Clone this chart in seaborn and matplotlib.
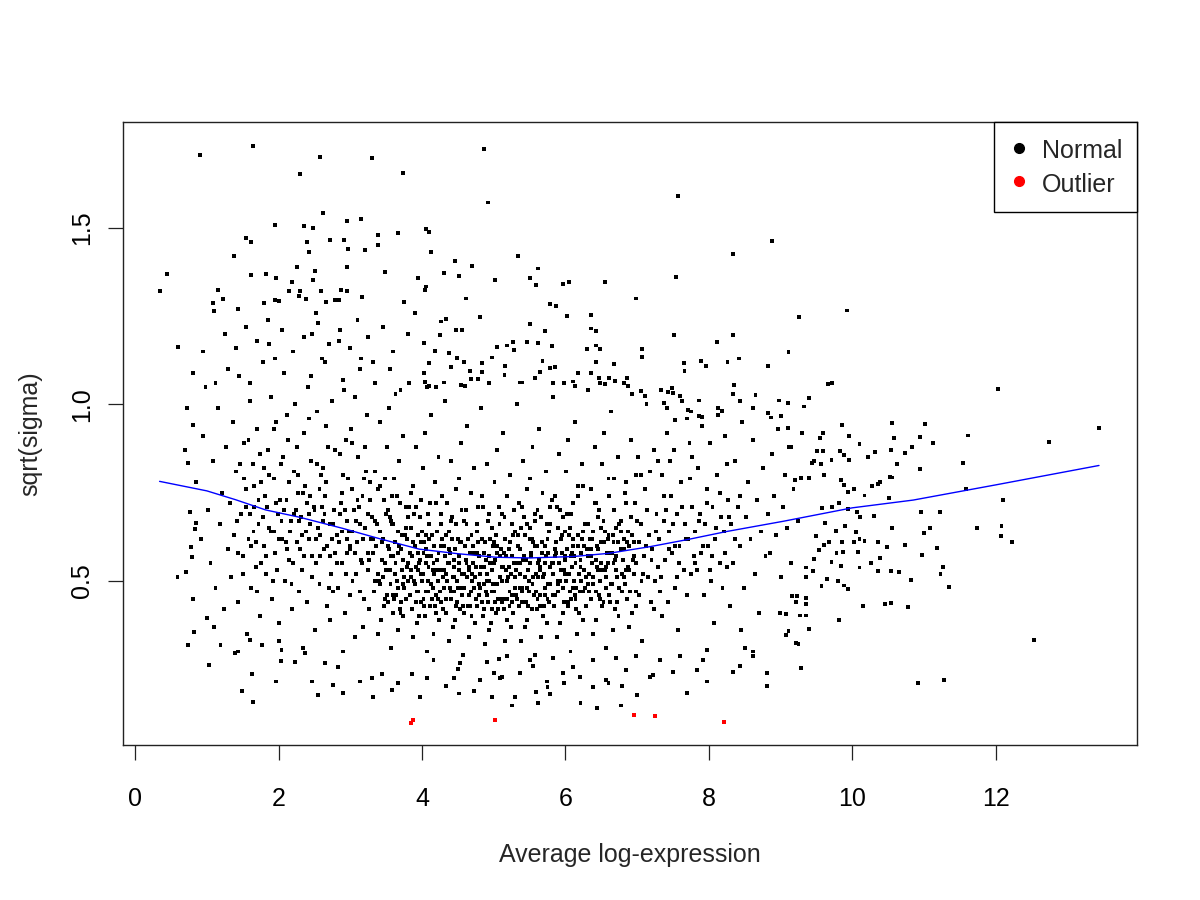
import numpy as np
import pandas as pd
import matplotlib
matplotlib.use("Agg")
import matplotlib.pyplot as plt
from matplotlib.lines import Line2D
import seaborn as sns

# points (x = average log-expression, y = sqrt(sigma))
top_tail = [
    (0.91, 1.707), (1.64, 1.733), (2.58, 1.700), (3.30, 1.698), (2.30, 1.653), (3.74, 1.656), (4.87, 1.723),
    (4.92, 1.572), (7.57, 1.591), (2.62, 1.543), (1.95, 1.508), (2.36, 1.506), (2.48, 1.501), (2.96, 1.520),
    (3.15, 1.525), (1.54, 1.472), (1.62, 1.460), (2.40, 1.461), (2.42, 1.433), (2.72, 1.465), (2.91, 1.465),
    (2.97, 1.441), (3.20, 1.438), (3.38, 1.452), (3.39, 1.479), (3.67, 1.486), (4.05, 1.496), (4.10, 1.488),
    (4.13, 1.431), (5.34, 1.420), (8.88, 1.464), (8.34, 1.425), (5.62, 1.385), (5.50, 1.359), (5.59, 1.339),
    (5.97, 1.340), (6.05, 1.348), (6.55, 1.348), (5.02, 1.353), (4.70, 1.392), (4.46, 1.405), (4.51, 1.363),
    (4.31, 1.372), (3.95, 1.358), (4.06, 1.334), (3.49, 1.374), (2.96, 1.389), (2.25, 1.390), (2.50, 1.378),
    (1.82, 1.370), (1.97, 1.359), (1.62, 1.367), (1.38, 1.420), (0.45, 1.369), (0.35, 1.321), (7.54, 1.360),
    (6.99, 1.300), (9.92, 1.266), (9.26, 1.247), (1.16, 1.324), (1.22, 1.298), (1.08, 1.287), (1.10, 1.264),
    (1.44, 1.271), (1.80, 1.288), (1.95, 1.295), (2.01, 1.292), (2.19, 1.346), (2.14, 1.321), (2.30, 1.322),
    (2.29, 1.307), (2.38, 1.299), (2.59, 1.321), (2.48, 1.353), (2.51, 1.377), (2.87, 1.325), (2.95, 1.322),
    (2.84, 1.295), (2.78, 1.295), (3.16, 1.305), (3.75, 1.291), (2.66, 1.289), (2.52, 1.260), (4.61, 1.300),
    (4.04, 1.324), (5.78, 1.285), (5.87, 1.278), (6.02, 1.251), (6.35, 1.253), (0.60, 1.162),
]

upper_mid = [
    (7.51, 1.196), (8.33, 1.196), (8.11, 1.177), (7.07, 1.156), (7.07, 1.135), (6.30, 1.156), (9.11, 1.148),
    (6.68, 1.116), (7.65, 1.117), (7.89, 1.122), (7.96, 1.108), (8.26, 1.121), (8.42, 1.130), (8.83, 1.108),
    (4.26, 1.235), (4.33, 1.241), (4.81, 1.247), (5.50, 1.227), (4.48, 1.210), (4.56, 1.211), (6.35, 1.215),
    (6.42, 1.209), (5.72, 1.207), (4.25, 1.196), (4.03, 1.173), (5.05, 1.162), (5.18, 1.167), (5.27, 1.177),
    (5.28, 1.154), (5.47, 1.176), (5.62, 1.175), (5.81, 1.165), (6.42, 1.167), (6.48, 1.156), (4.18, 1.151),
    (4.38, 1.145), (4.49, 1.131), (4.58, 1.119), (4.10, 1.118), (4.03, 1.090), (4.41, 1.105), (4.98, 1.133),
    (4.84, 1.117), (4.67, 1.094), (4.84, 1.092), (5.16, 1.109), (5.15, 1.083), (5.68, 1.122), (5.65, 1.091),
    (5.58, 1.076), (5.79, 1.103), (5.85, 1.107), (6.42, 1.121), (6.36, 1.088), (6.47, 1.076), (6.61, 1.076),
    (6.69, 1.066), (6.68, 1.114), (6.86, 1.075), (7.66, 1.094), (5.83, 1.060), (5.98, 1.060), (6.10, 1.065),
    (6.13, 1.052), (6.18, 1.090), (6.48, 1.060), (6.55, 1.058), (6.87, 1.051), (5.37, 1.062), (5.39, 1.062),
    (4.02, 1.088), (4.04, 1.064), (4.07, 1.050), (4.10, 1.053), (4.19, 1.049), (4.31, 1.062), (4.54, 1.056),
    (4.60, 1.053), (4.68, 1.071), (4.78, 1.071), (4.94, 1.060), (6.93, 1.030), (7.05, 1.039), (7.11, 1.025),
    (7.33, 1.041), (7.43, 1.034), (7.49, 1.046), (7.50, 1.032), (7.60, 1.024), (7.86, 1.011), (8.35, 1.054),
    (8.33, 1.030), (8.43, 1.009), (8.65, 1.026), (8.98, 1.011), (9.10, 1.004), (8.83, 0.975), (8.87, 0.963),
    (9.00, 0.966), (9.10, 0.933), (8.13, 0.970), (8.18, 0.982), (7.86, 0.966), (7.91, 0.964), (7.71, 0.984),
    (7.75, 0.980), (7.38, 1.003), (7.41, 0.990), (7.53, 0.956),
    (1.25, 1.20), (1.40, 1.16), (1.55, 1.22), (1.70, 1.18), (1.85, 1.24), (2.05, 1.21), (2.20, 1.15),
    (2.35, 1.19), (2.55, 1.23), (2.70, 1.17), (2.85, 1.21), (3.00, 1.16), (3.10, 1.24), (3.25, 1.19),
    (3.45, 1.22), (3.60, 1.15), (3.80, 1.20), (3.90, 1.26), (1.30, 1.10), (1.60, 1.06), (1.95, 1.13),
    (2.45, 1.08), (2.65, 1.12), (2.90, 1.07), (3.15, 1.13), (3.35, 1.06), (3.55, 1.10), (3.70, 1.04),
    (0.95, 1.15), (1.12, 1.06), (0.80, 1.09), (0.72, 0.99),
]

right_side = [
    (9.66, 1.057), (9.72, 1.060), (12.03, 1.043), (13.44, 0.933), (12.74, 0.893), (11.61, 0.912),
    (11.55, 0.834), (11.58, 0.760), (12.10, 0.730), (12.08, 0.655), (12.07, 0.627), (12.23, 0.609),
    (11.74, 0.651), (12.53, 0.333), (11.28, 0.220), (10.92, 0.210), (11.02, 0.945), (10.95, 0.908),
    (11.13, 0.890), (10.95, 0.818), (10.83, 0.880), (10.73, 0.862), (10.55, 0.947), (10.58, 0.906),
    (10.54, 0.870), (10.62, 0.832), (10.32, 0.864), (10.22, 0.850), (10.10, 0.888), (9.86, 0.941),
    (9.95, 0.910), (9.83, 0.868), (9.89, 0.856), (9.95, 0.842), (9.71, 0.843), (9.59, 0.869),
    (9.55, 0.905), (9.59, 0.920), (9.40, 1.017), (9.33, 0.994), (9.10, 1.004), (10.52, 0.794),
    (10.56, 0.793), (10.51, 0.734), (10.96, 0.695), (11.22, 0.695), (10.55, 0.650), (11.08, 0.649),
    (11.00, 0.635), (10.74, 0.601), (10.49, 0.595), (10.36, 0.611), (10.39, 0.566), (11.18, 0.592),
    (10.97, 0.573), (11.27, 0.540), (11.23, 0.520), (11.35, 0.483), (10.82, 0.503), (10.65, 0.525),
    (10.54, 0.528), (10.36, 0.528), (10.78, 0.425), (10.54, 0.437), (10.46, 0.435), (10.15, 0.430),
    (9.81, 0.388), (9.40, 0.363), (9.25, 0.322), (9.29, 0.253), (10.36, 0.775), (10.38, 0.779),
    (10.27, 0.770), (10.17, 0.742), (10.02, 0.761), (9.94, 0.751), (9.84, 0.786), (9.89, 0.772),
    (9.82, 0.720), (9.72, 0.710), (9.94, 0.704), (10.06, 0.695), (10.11, 0.681), (10.30, 0.684),
    (9.90, 0.656), (9.77, 0.642), (10.05, 0.638), (10.10, 0.620), (10.17, 0.614), (10.02, 0.610),
    (9.85, 0.609), (9.68, 0.609), (9.87, 0.581), (9.78, 0.578), (10.08, 0.581), (10.26, 0.550),
    (10.10, 0.538), (9.84, 0.541), (9.71, 0.553), (9.65, 0.506), (9.80, 0.501), (9.89, 0.487),
    (9.94, 0.478), (9.57, 0.485), (9.45, 0.529), (9.35, 0.538), (9.35, 0.512), (9.35, 0.451),
    (9.36, 0.435), (9.27, 0.402), (9.35, 0.402), (9.08, 0.406), (9.11, 0.358), (9.23, 0.458),
    (9.16, 0.456), (9.29, 0.791), (9.20, 0.785), (9.39, 0.791), (9.58, 0.707), (9.62, 0.663),
    (9.50, 0.628), (9.60, 0.602), (9.53, 0.587), (9.47, 0.562), (9.47, 0.839), (9.44, 0.833),
    (9.56, 0.830), (9.60, 0.800), (9.51, 0.868), (9.30, 0.919), (9.15, 0.880),
]

bottom_edge = [
    (0.59, 0.512), (0.71, 0.526), (0.79, 0.569), (0.78, 0.597), (0.85, 0.663), (0.84, 0.647), (0.76, 0.694),
    (0.73, 0.833), (0.69, 0.871), (0.80, 0.942), (0.73, 0.319), (0.82, 0.355), (1.03, 0.262), (1.00, 0.394),
    (0.80, 0.449), (1.49, 0.188), (1.64, 0.158), (2.03, 0.274), (1.63, 0.235), (2.55, 0.177), (2.90, 0.182),
    (3.31, 0.172), (3.58, 0.191), (3.97, 0.172), (1.97, 0.215), (2.46, 0.215), (2.76, 0.205), (3.14, 0.215),
    (3.30, 0.226), (3.44, 0.237), (3.66, 0.212), (3.86, 0.237), (1.19, 0.319), (1.39, 0.295), (1.60, 0.333),
    (1.77, 0.319), (2.04, 0.305), (2.23, 0.271), (2.37, 0.295), (2.65, 0.267), (2.83, 0.257),
    (4.33, 0.203), (4.52, 0.181), (4.72, 0.187), (4.97, 0.170), (5.11, 0.227), (5.29, 0.170), (5.26, 0.147),
    (5.62, 0.154), (5.79, 0.180), (5.59, 0.185), (5.75, 0.199), (5.98, 0.210), (6.21, 0.154), (6.39, 0.199),
    (6.44, 0.141), (6.60, 0.210), (6.78, 0.147), (6.79, 0.203), (7.00, 0.177), (7.18, 0.229), (7.69, 0.182),
    (7.97, 0.215), (8.43, 0.259), (8.81, 0.238), (8.81, 0.201), (8.62, 0.286), (9.22, 0.324), (4.07, 0.224),
    (4.44, 0.224), (4.81, 0.219), (5.09, 0.224), (5.37, 0.238), (5.74, 0.215), (5.97, 0.238), (6.20, 0.229),
    (6.57, 0.219), (6.85, 0.248), (7.22, 0.234), (7.50, 0.243), (7.83, 0.248), (7.97, 0.305), (8.34, 0.243),
    (8.62, 0.300), (9.08, 0.347), (8.99, 0.408), (4.16, 0.276), (4.53, 0.267), (4.90, 0.271), (5.18, 0.286),
    (5.51, 0.276), (5.83, 0.281), (6.11, 0.257), (6.39, 0.276), (6.71, 0.281), (6.99, 0.286), (7.32, 0.276),
    (7.60, 0.286), (7.92, 0.276),
]

core_left = [
    (0.85, 0.78), (0.92, 0.62), (0.95, 0.91), (1.02, 0.70), (1.05, 0.55), (1.08, 0.84), (1.12, 0.48),
    (1.15, 0.99), (1.18, 0.66), (1.21, 0.75), (1.24, 0.42), (1.27, 0.88), (1.29, 0.59), (0.98, 1.05),
    (1.10, 0.37), (1.32, 0.72), (1.34, 0.51), (1.36, 0.95), (1.38, 0.63), (1.41, 0.81), (1.43, 0.44),
    (1.45, 1.08), (1.47, 0.69), (1.50, 0.57), (1.52, 0.89), (1.54, 0.76), (1.56, 0.35), (1.58, 0.62),
    (1.60, 1.01), (1.62, 0.48), (1.64, 0.83), (1.66, 0.71), (1.68, 0.54), (1.70, 0.93), (1.72, 0.66),
    (1.74, 0.40), (1.76, 0.78), (1.78, 1.12), (1.79, 0.60), (1.44, 0.30), (1.81, 0.74), (1.83, 0.52),
    (1.85, 0.87), (1.87, 0.65), (1.89, 1.02), (1.91, 0.45), (1.93, 0.79), (1.95, 0.58), (1.97, 0.95),
    (1.99, 0.69), (2.01, 0.38), (2.03, 0.83), (2.05, 0.62), (2.07, 1.09), (2.09, 0.50), (2.11, 0.73),
    (2.13, 0.90), (2.15, 0.56), (2.17, 0.67), (2.19, 0.42), (2.21, 0.81), (2.23, 1.00), (2.25, 0.61),
    (2.27, 0.75), (2.29, 0.47), (1.86, 1.17), (2.00, 0.33), (2.12, 0.97), (2.24, 0.70), (1.94, 0.64),
    (2.31, 0.68), (2.33, 0.53), (2.35, 0.92), (2.37, 0.77), (2.39, 0.44), (2.41, 1.05), (2.43, 0.62),
    (2.45, 0.84), (2.47, 0.57), (2.49, 0.71), (2.51, 0.36), (2.53, 0.98), (2.55, 0.65), (2.57, 0.49),
    (2.59, 0.80), (2.61, 1.13), (2.63, 0.59), (2.65, 0.74), (2.67, 0.43), (2.69, 0.88), (2.71, 0.66),
    (2.73, 0.52), (2.75, 1.01), (2.77, 0.70), (2.79, 0.58), (2.34, 0.31), (2.46, 1.20), (2.58, 0.63),
    (2.66, 0.94), (2.72, 0.39), (2.40, 0.72), (2.52, 0.55), (2.62, 0.82), (2.76, 0.47), (2.44, 0.66),
    (2.81, 0.63), (2.83, 0.48), (2.85, 0.86), (2.87, 0.72), (2.89, 0.55), (2.91, 1.04), (2.93, 0.41),
    (2.95, 0.67), (2.97, 0.79), (2.99, 0.59), (3.01, 0.93), (3.03, 0.50), (3.05, 0.70), (3.07, 0.34),
    (3.09, 0.61), (3.11, 0.85), (3.13, 1.10), (3.15, 0.56), (3.17, 0.74), (3.19, 0.45), (3.21, 0.65),
    (3.23, 0.97), (3.25, 0.53), (3.27, 0.78), (3.29, 0.62), (2.84, 1.18), (2.90, 0.30), (2.96, 0.58),
    (3.02, 0.76), (3.08, 0.52), (3.14, 0.66), (3.20, 0.88), (3.26, 0.42), (2.88, 0.64), (3.00, 0.46),
    (3.12, 0.71), (3.24, 0.58), (2.94, 0.90), (3.06, 1.02), (3.18, 0.37),
    (1.42, 0.67), (1.46, 0.83), (1.50, 0.52), (1.54, 0.71), (1.58, 0.90), (1.62, 0.60), (1.66, 0.77),
    (1.70, 0.47), (1.74, 0.86), (1.78, 0.68), (1.82, 0.57), (1.86, 0.80), (1.90, 0.64), (1.94, 0.93),
    (1.98, 0.53), (2.02, 0.73), (2.06, 0.85), (2.10, 0.61), (2.14, 0.78), (2.18, 0.49), (2.22, 0.69),
    (2.26, 0.88), (2.30, 0.59), (2.34, 0.75), (2.38, 0.64), (2.42, 0.96), (2.46, 0.51), (2.50, 0.70),
    (2.54, 0.83), (2.58, 0.57), (2.62, 0.67), (2.66, 0.78), (2.70, 0.48), (2.74, 0.62), (2.78, 0.87),
    (2.82, 0.55), (2.86, 0.69), (2.90, 0.80), (2.94, 0.52), (2.98, 0.64), (3.02, 0.89), (3.06, 0.58),
    (3.10, 0.73), (3.14, 0.47), (3.18, 0.62), (3.22, 0.81), (3.26, 0.56), (3.30, 0.68), (3.34, 0.50),
    (3.38, 0.76), (1.44, 0.58), (1.52, 0.79), (1.60, 0.69), (1.68, 0.61), (1.76, 0.55), (1.84, 0.71),
    (1.92, 0.50), (2.00, 0.62), (2.08, 0.70), (2.16, 0.64), (2.20, 0.55), (2.28, 0.67), (2.36, 0.57),
    (2.44, 0.74), (2.52, 0.62), (2.60, 0.71), (2.68, 0.60), (2.76, 0.66), (2.84, 0.61), (2.92, 0.70),
    (3.00, 0.60), (3.08, 0.67), (3.16, 0.55), (3.24, 0.69), (3.32, 0.62),
    (1.65, 0.64), (1.80, 0.82), (1.96, 0.72), (2.12, 0.59), (2.27, 0.80), (2.42, 0.69), (2.57, 0.76),
    (2.72, 0.57), (2.88, 0.75), (3.03, 0.64), (3.19, 0.79), (3.35, 0.67), (1.72, 0.73), (2.04, 0.67),
    (2.32, 0.63), (2.64, 0.69), (2.96, 0.62), (3.28, 0.73),
]

core_mid = [
    (3.31, 0.58), (3.33, 0.47), (3.35, 0.81), (3.37, 0.66), (3.39, 0.52), (3.41, 0.95), (3.43, 0.39),
    (3.45, 0.62), (3.47, 0.73), (3.49, 0.55), (3.51, 0.88), (3.53, 0.44), (3.55, 0.68), (3.57, 0.31),
    (3.59, 0.57), (3.61, 0.79), (3.63, 1.03), (3.65, 0.50), (3.67, 0.64), (3.69, 0.42), (3.71, 0.59),
    (3.73, 0.91), (3.75, 0.48), (3.77, 0.71), (3.79, 0.54), (3.32, 1.12), (3.38, 0.35), (3.44, 0.56),
    (3.50, 0.69), (3.56, 0.49), (3.62, 0.61), (3.68, 0.84), (3.74, 0.40), (3.36, 0.60), (3.48, 0.45),
    (3.60, 0.66), (3.72, 0.53), (3.42, 0.77), (3.54, 0.99), (3.66, 0.36), (3.40, 0.50), (3.52, 0.60),
    (3.64, 0.46), (3.76, 0.63), (3.58, 0.74), (3.81, 0.55), (3.83, 0.46), (3.85, 0.75), (3.87, 0.61),
    (3.89, 0.50), (3.91, 0.88), (3.93, 0.38), (3.95, 0.58), (3.97, 0.68), (3.99, 0.52), (4.01, 0.82),
    (4.03, 0.43), (4.05, 0.63), (4.07, 0.30), (4.09, 0.54), (4.11, 0.72), (4.13, 0.97), (4.15, 0.48),
    (4.17, 0.60), (4.19, 0.41), (4.21, 0.56), (4.23, 0.85), (4.25, 0.47), (4.27, 0.66), (4.29, 0.51),
    (3.82, 1.06), (3.88, 0.34), (3.94, 0.53), (4.00, 0.64), (4.06, 0.47), (4.12, 0.57), (4.18, 0.78),
    (4.24, 0.39), (3.86, 0.57), (3.98, 0.44), (4.10, 0.62), (4.22, 0.50), (3.92, 0.71), (4.04, 0.92),
    (4.16, 0.35), (3.90, 0.49), (4.02, 0.58), (4.14, 0.45), (4.26, 0.60), (4.08, 0.69), (3.84, 0.65),
    (3.96, 0.40), (4.20, 0.53), (4.28, 0.74), (4.00, 0.50), (4.31, 0.53), (4.33, 0.45), (4.35, 0.72),
    (4.37, 0.59), (4.39, 0.48), (4.41, 0.84), (4.43, 0.37), (4.45, 0.56), (4.47, 0.66), (4.49, 0.50),
    (4.51, 0.79), (4.53, 0.42), (4.55, 0.61), (4.57, 0.29), (4.59, 0.52), (4.61, 0.70), (4.63, 0.94),
    (4.65, 0.46), (4.67, 0.58), (4.69, 0.40), (4.71, 0.55), (4.73, 0.82), (4.75, 0.45), (4.77, 0.64),
    (4.79, 0.49), (4.32, 1.01), (4.38, 0.33), (4.44, 0.51), (4.50, 0.62), (4.56, 0.46), (4.62, 0.55),
    (4.68, 0.75), (4.74, 0.38), (4.36, 0.55), (4.48, 0.43), (4.60, 0.60), (4.72, 0.48), (4.42, 0.68),
    (4.54, 0.89), (4.66, 0.34), (4.40, 0.47), (4.52, 0.57), (4.64, 0.43), (4.76, 0.58), (4.58, 0.67),
    (4.34, 0.63), (4.46, 0.39), (4.70, 0.52), (4.78, 0.71), (4.50, 0.25), (4.81, 0.52), (4.83, 0.44),
    (4.85, 0.71), (4.87, 0.58), (4.89, 0.47), (4.91, 0.83), (4.93, 0.36), (4.95, 0.55), (4.97, 0.65),
    (4.99, 0.49), (5.01, 0.78), (5.03, 0.41), (5.05, 0.60), (5.07, 0.28), (5.09, 0.51), (5.11, 0.69),
    (5.13, 0.92), (5.15, 0.45), (5.17, 0.57), (5.19, 0.39), (5.21, 0.54), (5.23, 0.80), (5.25, 0.44),
    (5.27, 0.63), (5.29, 0.48), (4.82, 0.99), (4.88, 0.32), (4.94, 0.50), (5.00, 0.61), (5.06, 0.45),
    (5.12, 0.54), (5.18, 0.74), (5.24, 0.37), (4.86, 0.54), (4.98, 0.42), (5.10, 0.59), (5.22, 0.47),
    (4.92, 0.67), (5.04, 0.87), (5.16, 0.33), (4.90, 0.46), (5.02, 0.56), (5.14, 0.42), (5.26, 0.57),
    (5.08, 0.66), (4.84, 0.62), (4.96, 0.38), (5.20, 0.51), (5.28, 0.70), (5.00, 0.24),
]

core_dense = [
    (3.41, 0.49), (3.44, 0.61), (3.47, 0.43), (3.50, 0.53), (3.53, 0.70), (3.56, 0.57), (3.59, 0.46),
    (3.62, 0.52), (3.65, 0.74), (3.68, 0.60), (3.71, 0.44), (3.74, 0.56), (3.77, 0.65), (3.80, 0.50),
    (3.83, 0.58), (3.86, 0.42), (3.89, 0.69), (3.92, 0.54), (3.95, 0.47), (3.98, 0.61), (4.01, 0.52),
    (4.04, 0.40), (4.07, 0.57), (4.10, 0.66), (4.13, 0.49), (4.16, 0.55), (4.19, 0.72), (4.22, 0.45),
    (4.25, 0.53), (4.28, 0.62), (4.31, 0.48), (4.34, 0.41), (4.37, 0.55), (4.40, 0.67), (4.43, 0.51),
    (4.46, 0.59), (4.49, 0.44), (4.52, 0.53), (4.55, 0.70), (4.58, 0.48), (4.61, 0.56), (4.64, 0.62),
    (4.67, 0.43), (4.70, 0.50), (4.73, 0.58), (4.76, 0.66), (4.79, 0.46), (4.82, 0.54), (4.85, 0.40),
    (4.88, 0.61), (4.91, 0.52), (4.94, 0.69), (4.97, 0.47), (5.00, 0.55), (5.03, 0.63), (5.06, 0.42),
    (5.09, 0.57), (5.12, 0.50), (5.15, 0.68), (5.18, 0.45), (5.21, 0.59), (5.24, 0.52), (5.27, 0.41),
    (5.30, 0.64), (5.33, 0.55), (5.36, 0.48), (5.39, 0.71), (5.42, 0.57), (5.45, 0.44), (5.48, 0.53),
    (5.51, 0.65), (5.54, 0.49), (5.57, 0.60), (5.60, 0.42), (5.63, 0.56), (5.66, 0.68), (5.69, 0.51),
    (5.72, 0.46), (5.75, 0.62), (5.78, 0.54), (5.81, 0.73), (5.84, 0.43), (5.87, 0.58), (5.90, 0.65),
    (5.93, 0.50), (5.96, 0.41), (5.99, 0.56), (6.02, 0.69), (6.05, 0.52), (6.08, 0.45), (6.11, 0.60),
    (6.14, 0.55), (6.17, 0.74), (6.20, 0.47), (6.23, 0.62), (6.26, 0.53), (6.29, 0.43), (6.32, 0.66),
    (6.35, 0.57), (6.38, 0.49), (6.41, 0.72), (6.44, 0.60), (6.47, 0.46), (6.50, 0.55), (6.53, 0.67),
    (6.56, 0.51), (6.59, 0.62), (6.62, 0.44), (6.65, 0.58), (6.68, 0.70), (6.71, 0.53), (6.74, 0.48),
    (6.77, 0.64), (6.80, 0.56), (6.83, 0.75), (6.86, 0.45), (6.89, 0.60), (6.92, 0.68), (6.95, 0.52),
    (6.98, 0.43),
    (3.42, 0.64), (3.45, 0.51), (3.48, 0.79), (3.51, 0.46), (3.54, 0.59), (3.57, 0.67), (3.60, 0.41),
    (3.63, 0.55), (3.66, 0.48), (3.69, 0.72), (3.72, 0.63), (3.75, 0.51), (3.78, 0.45), (3.81, 0.68),
    (3.84, 0.53), (3.87, 0.77), (3.90, 0.60), (3.93, 0.47), (3.96, 0.55), (3.99, 0.73), (4.02, 0.45),
    (4.05, 0.59), (4.08, 0.50), (4.11, 0.43), (4.14, 0.63), (4.17, 0.52), (4.20, 0.46), (4.23, 0.58),
    (4.26, 0.69), (4.29, 0.42), (4.32, 0.57), (4.35, 0.50), (4.38, 0.64), (4.41, 0.45), (4.44, 0.54),
    (4.47, 0.76), (4.50, 0.48), (4.53, 0.61), (4.56, 0.52), (4.59, 0.41), (4.62, 0.66), (4.65, 0.53),
    (4.68, 0.47), (4.71, 0.60), (4.74, 0.51), (4.77, 0.43), (4.80, 0.57), (4.83, 0.74), (4.86, 0.49),
    (4.89, 0.56), (4.92, 0.44), (4.95, 0.62), (4.98, 0.53), (5.01, 0.47), (5.04, 0.58), (5.07, 0.71),
    (5.10, 0.45), (5.13, 0.54), (5.16, 0.62), (5.19, 0.50), (5.22, 0.43), (5.25, 0.66), (5.28, 0.55),
    (5.31, 0.46), (5.34, 0.60), (5.37, 0.52), (5.40, 0.44), (5.43, 0.63), (5.46, 0.76), (5.49, 0.47),
    (5.52, 0.58), (5.55, 0.51), (5.58, 0.69), (5.61, 0.45), (5.64, 0.54), (5.67, 0.61), (5.70, 0.43),
    (5.73, 0.57), (5.76, 0.49), (5.79, 0.66), (5.82, 0.52), (5.85, 0.46), (5.88, 0.71), (5.91, 0.55),
    (5.94, 0.62), (5.97, 0.48), (6.00, 0.57), (6.03, 0.44), (6.06, 0.65), (6.09, 0.58), (6.12, 0.50),
    (6.15, 0.42), (6.18, 0.63), (6.21, 0.54), (6.24, 0.77), (6.27, 0.48), (6.30, 0.59), (6.33, 0.52),
    (6.36, 0.45), (6.39, 0.64), (6.42, 0.56), (6.45, 0.68), (6.48, 0.50), (6.51, 0.43), (6.54, 0.61),
    (6.57, 0.54), (6.60, 0.79), (6.63, 0.49), (6.66, 0.63), (6.69, 0.56), (6.72, 0.44), (6.75, 0.66),
    (6.78, 0.59), (6.81, 0.51), (6.84, 0.72), (6.87, 0.54), (6.90, 0.47), (6.93, 0.63), (6.96, 0.57),
    (6.99, 0.80),
    (3.55, 0.53), (3.61, 0.45), (3.67, 0.58), (3.73, 0.49), (3.79, 0.62), (3.85, 0.51), (3.91, 0.44),
    (3.97, 0.56), (4.03, 0.61), (4.09, 0.47), (4.15, 0.53), (4.21, 0.64), (4.27, 0.44), (4.33, 0.52),
    (4.39, 0.58), (4.45, 0.47), (4.51, 0.55), (4.57, 0.43), (4.63, 0.51), (4.69, 0.63), (4.75, 0.54),
    (4.81, 0.48), (4.87, 0.42), (4.93, 0.57), (4.99, 0.60), (5.05, 0.49), (5.11, 0.44), (5.17, 0.53),
    (5.23, 0.61), (5.29, 0.51), (5.35, 0.43), (5.41, 0.56), (5.47, 0.48), (5.53, 0.62), (5.59, 0.47),
    (5.65, 0.53), (5.71, 0.60), (5.77, 0.44), (5.83, 0.55), (5.89, 0.47), (5.95, 0.63), (6.01, 0.50),
    (6.07, 0.57), (6.13, 0.46), (6.19, 0.52), (6.25, 0.64), (6.31, 0.49), (6.37, 0.55), (6.43, 0.47),
    (6.49, 0.61), (6.55, 0.53), (6.61, 0.46), (6.67, 0.55), (6.73, 0.61), (6.79, 0.47), (6.85, 0.53),
    (3.58, 0.66), (3.70, 0.41), (3.82, 0.71), (3.94, 0.63), (4.06, 0.55), (4.18, 0.43), (4.30, 0.60),
    (4.42, 0.62), (4.54, 0.48), (4.66, 0.54), (4.78, 0.61), (4.90, 0.50), (5.02, 0.44), (5.14, 0.58),
    (5.26, 0.46), (5.38, 0.65), (5.50, 0.55), (5.62, 0.51), (5.74, 0.66), (5.86, 0.59), (5.98, 0.53),
    (6.10, 0.48), (6.22, 0.58), (6.34, 0.62), (6.46, 0.53), (6.58, 0.58), (6.70, 0.65), (6.82, 0.62),
]

core_right = [
    (5.31, 0.53), (5.33, 0.45), (5.35, 0.72), (5.37, 0.59), (5.39, 0.48), (5.41, 0.84), (5.43, 0.37),
    (5.45, 0.56), (5.47, 0.66), (5.49, 0.50), (5.51, 0.79), (5.53, 0.42), (5.55, 0.61), (5.57, 0.29),
    (5.59, 0.52), (5.61, 0.70), (5.63, 0.93), (5.65, 0.46), (5.67, 0.58), (5.69, 0.40), (5.71, 0.55),
    (5.73, 0.81), (5.75, 0.45), (5.77, 0.64), (5.79, 0.49), (5.32, 1.00), (5.38, 0.33), (5.44, 0.51),
    (5.50, 0.62), (5.56, 0.46), (5.62, 0.55), (5.68, 0.75), (5.74, 0.38), (5.36, 0.55), (5.48, 0.43),
    (5.60, 0.60), (5.72, 0.48), (5.42, 0.68), (5.54, 0.88), (5.66, 0.34), (5.40, 0.47), (5.52, 0.57),
    (5.64, 0.43), (5.76, 0.58), (5.58, 0.67), (5.34, 0.63), (5.46, 0.39), (5.70, 0.52), (5.78, 0.71),
    (5.55, 0.26), (5.81, 0.55), (5.83, 0.46), (5.85, 0.74), (5.87, 0.61), (5.89, 0.50), (5.91, 0.86),
    (5.93, 0.38), (5.95, 0.58), (5.97, 0.68), (5.99, 0.52), (6.01, 0.81), (6.03, 0.43), (6.05, 0.63),
    (6.07, 0.30), (6.09, 0.54), (6.11, 0.72), (6.13, 0.95), (6.15, 0.48), (6.17, 0.60), (6.19, 0.41),
    (6.21, 0.56), (6.23, 0.83), (6.25, 0.47), (6.27, 0.66), (6.29, 0.51), (5.82, 1.02), (5.88, 0.34),
    (5.94, 0.53), (6.00, 0.64), (6.06, 0.47), (6.12, 0.57), (6.18, 0.77), (6.24, 0.39), (5.86, 0.57),
    (5.98, 0.44), (6.10, 0.62), (6.22, 0.50), (5.92, 0.70), (6.04, 0.90), (6.16, 0.35), (5.90, 0.49),
    (6.02, 0.59), (6.14, 0.45), (6.26, 0.60), (6.08, 0.69), (6.31, 0.57), (6.33, 0.47), (6.35, 0.76),
    (6.37, 0.62), (6.39, 0.51), (6.41, 0.88), (6.43, 0.39), (6.45, 0.59), (6.47, 0.70), (6.49, 0.53),
    (6.51, 0.83), (6.53, 0.44), (6.55, 0.64), (6.57, 0.31), (6.59, 0.55), (6.61, 0.74), (6.63, 0.98),
    (6.65, 0.49), (6.67, 0.61), (6.69, 0.42), (6.71, 0.57), (6.73, 0.85), (6.75, 0.48), (6.77, 0.67),
    (6.79, 0.52), (6.32, 1.04), (6.38, 0.35), (6.44, 0.54), (6.50, 0.65), (6.56, 0.48), (6.62, 0.58),
    (6.68, 0.79), (6.74, 0.40), (6.36, 0.59), (6.48, 0.45), (6.60, 0.63), (6.72, 0.51), (6.42, 0.72),
    (6.54, 0.92), (6.66, 0.36),
]

core_far = [
    (6.81, 0.59), (6.83, 0.49), (6.85, 0.78), (6.87, 0.64), (6.89, 0.53), (6.91, 0.90), (6.93, 0.41),
    (6.95, 0.61), (6.97, 0.72), (6.99, 0.55), (7.01, 0.85), (7.03, 0.46), (7.05, 0.66), (7.07, 0.33),
    (7.09, 0.57), (7.11, 0.76), (7.13, 1.00), (7.15, 0.51), (7.17, 0.63), (7.19, 0.44), (7.21, 0.59),
    (7.23, 0.87), (7.25, 0.50), (7.27, 0.69), (7.29, 0.54), (6.82, 1.06), (6.88, 0.37), (6.94, 0.56),
    (7.00, 0.67), (7.06, 0.50), (7.12, 0.60), (7.18, 0.81), (7.24, 0.42), (6.86, 0.61), (6.98, 0.47),
    (7.31, 0.62), (7.33, 0.51), (7.35, 0.80), (7.37, 0.67), (7.39, 0.56), (7.41, 0.92), (7.43, 0.44),
    (7.45, 0.64), (7.47, 0.74), (7.49, 0.58), (7.51, 0.87), (7.53, 0.48), (7.55, 0.69), (7.57, 0.36),
    (7.59, 0.60), (7.61, 0.78), (7.63, 1.01), (7.65, 0.53), (7.67, 0.66), (7.69, 0.46), (7.71, 0.62),
    (7.73, 0.89), (7.75, 0.52), (7.77, 0.71), (7.79, 0.57), (7.34, 0.40), (7.46, 0.84), (7.58, 0.55),
    (7.70, 0.96), (7.40, 0.70), (7.81, 0.64), (7.83, 0.53), (7.85, 0.82), (7.87, 0.69), (7.89, 0.58),
    (7.91, 0.94), (7.93, 0.46), (7.95, 0.66), (7.97, 0.76), (7.99, 0.60), (8.01, 0.89), (8.03, 0.50),
    (8.05, 0.71), (8.07, 0.38), (8.09, 0.62), (8.11, 0.80), (8.13, 0.99), (8.15, 0.55), (8.17, 0.68),
    (8.19, 0.48), (8.21, 0.64), (8.23, 0.91), (8.25, 0.54), (8.27, 0.73), (8.29, 0.43), (8.31, 0.66),
    (8.34, 0.55), (8.37, 0.84), (8.40, 0.71), (8.43, 0.60), (8.46, 0.95), (8.49, 0.48), (8.52, 0.68),
    (8.55, 0.78), (8.58, 0.62), (8.61, 0.90), (8.64, 0.52), (8.67, 0.73), (8.70, 0.41), (8.73, 0.64),
    (8.76, 0.82), (8.79, 0.57), (8.45, 0.36), (8.62, 0.99), (8.50, 0.31), (8.82, 0.69), (8.85, 0.58),
    (8.88, 0.86), (8.91, 0.74), (8.94, 0.63), (8.97, 0.93), (9.00, 0.51), (9.03, 0.71), (9.06, 0.80),
    (9.09, 0.65), (9.12, 0.88), (9.15, 0.55), (9.18, 0.76), (9.21, 0.44), (9.24, 0.67),
    (7.02, 0.61), (7.08, 0.52), (7.14, 0.70), (7.20, 0.56), (7.26, 0.64), (7.32, 0.47), (7.38, 0.74),
    (7.44, 0.59), (7.50, 0.66), (7.56, 0.51), (7.62, 0.71), (7.68, 0.62), (7.74, 0.79), (7.80, 0.55),
    (7.86, 0.67), (7.92, 0.60), (7.98, 0.72), (8.04, 0.57), (8.10, 0.65), (8.16, 0.75), (8.22, 0.58),
    (8.28, 0.68), (8.36, 0.62), (8.44, 0.74), (7.05, 0.80), (7.29, 0.84), (7.53, 0.60), (7.77, 0.85),
    (8.01, 0.53), (8.25, 0.83),
]

outliers = [(3.85, 0.098), (3.87, 0.106), (5.02, 0.106), (6.95, 0.120), (7.25, 0.118), (8.21, 0.100)]

# fitted trend (blue curve)
trend_x = [0.34, 1.00, 1.40, 1.82, 2.30, 2.89, 3.40, 3.96, 4.50, 5.03, 5.50, 6.11, 6.60, 7.18, 7.70,
           8.25, 9.04, 10.00, 10.85, 12.00, 13.44]
trend_y = [0.782, 0.755, 0.730, 0.701, 0.680, 0.649, 0.620, 0.590, 0.577, 0.567, 0.565, 0.569, 0.578,
           0.597, 0.617, 0.640, 0.669, 0.707, 0.729, 0.772, 0.827]

normal = top_tail + upper_mid + right_side + bottom_edge + core_left + core_mid + core_dense + core_right + core_far
df = pd.DataFrame(normal + outliers, columns=["AveExpr", "sqrt_sigma"])
df["status"] = ["Normal"] * len(normal) + ["Outlier"] * len(outliers)
trend = pd.DataFrame({"AveExpr": trend_x, "sqrt_sigma": trend_y})

sns.set_style("white")
plt.rcParams["font.family"] = ["Liberation Sans", "DejaVu Sans"]

fig = plt.figure(figsize=(12, 9), dpi=100)
ax = fig.add_axes([0.1025, 0.1722, 0.845, 0.6922])

sns.scatterplot(data=df, x="AveExpr", y="sqrt_sigma", hue="status",
                palette={"Normal": "black", "Outlier": "red"},
                s=8, marker="s", linewidth=0, legend=False, ax=ax)
sns.lineplot(data=trend, x="AveExpr", y="sqrt_sigma", color="blue", linewidth=1.0, ax=ax)

ax.set_xlim(-0.17, 13.97)
ax.set_ylim(0.035, 1.80)
ax.set_xticks([0, 2, 4, 6, 8, 10, 12])
ax.set_yticks([0.5, 1.0, 1.5])
ax.set_yticklabels(["0.5", "1.0", "1.5"], rotation=90, va="center")

for sp in ax.spines.values():
    sp.set_visible(True)
    sp.set_color("#222222")
    sp.set_linewidth(1.0)

ax.tick_params(axis="both", which="major", direction="out", length=11, width=0.9,
               color="#222222", labelsize=18, labelcolor="black", bottom=True, left=True)
ax.tick_params(axis="x", pad=19)
ax.tick_params(axis="y", pad=10)

ax.set_xlabel("Average log-expression", fontsize=18)
ax.set_ylabel("sqrt(sigma)", fontsize=18)
ax.xaxis.set_label_coords(0.5, -0.158)
ax.yaxis.set_label_coords(-0.08, 0.5)

handles = [
    Line2D([], [], marker="o", linestyle="", color="black", markersize=7),
    Line2D([], [], marker="o", linestyle="", color="red", markersize=7),
]
leg = ax.legend(handles, ["Normal", "Outlier"], loc="upper right", fontsize=18,
                frameon=True, fancybox=False, framealpha=1, edgecolor="black",
                borderaxespad=0, handletextpad=0.52, borderpad=0.6, labelspacing=0.3,
                handlelength=0.8, handleheight=1.2)
leg.get_frame().set_linewidth(1.0)

fig.savefig("out.png", dpi=100, facecolor="white")
